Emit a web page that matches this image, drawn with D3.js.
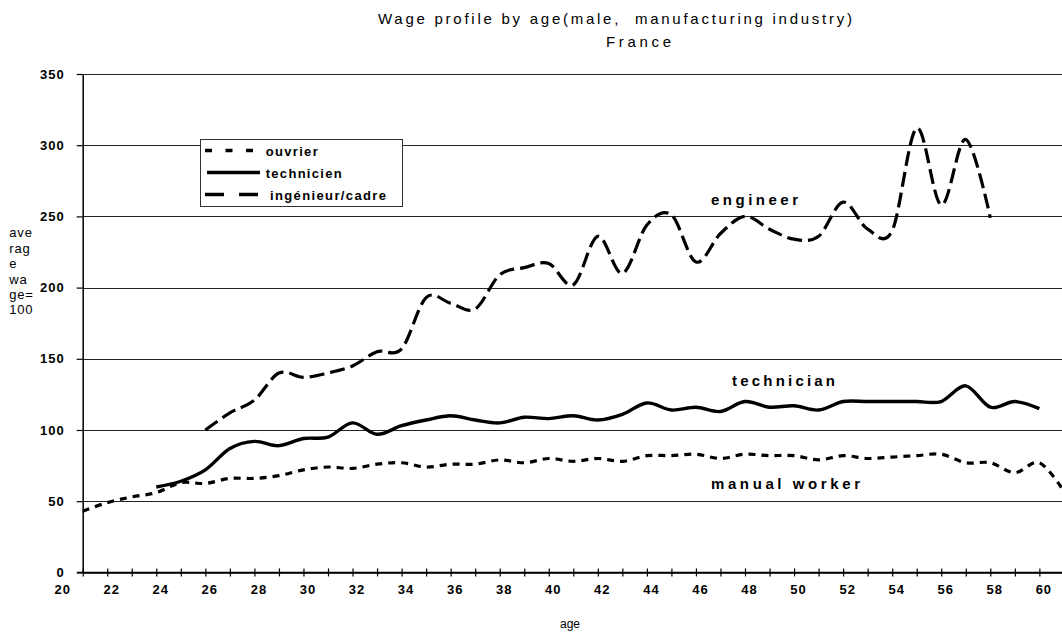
<!DOCTYPE html>
<html><head><meta charset="utf-8">
<script src="https://cdn.jsdelivr.net/npm/d3@7"></script>
<style>
body{margin:0;background:#fff}
svg{display:block}
text{font-family:"Liberation Sans",Arial,Helvetica,sans-serif;fill:#000}
</style>
</head><body>
<svg id="c" width="1062" height="635"></svg>
<script>
// ---- data (ages 21..61; null = no value) ----
const ages = d3.range(21, 62);
const ouvrier = [43,49,53,56,63,62.5,66,66,68,72,74,73,76,77,74,76,76,79,77,80,78,80,78,82,82,83,80,83,82,82,79,82,80,81,82,83,77,77,70,77,57];
const technicien = [null,null,null,60,64,72,87,92,89,94,95,105,97,103,107,110,107,105,109,108,110,107,111,119,114,116,113,120,116,117,114,120,120,120,120,120,131,116,120,115,null];
const ingenieur = [null,null,null,null,null,100,112,121,140,137,140,145,155,157,193,189,185,209,214,217,202,236,210,244,251,218,238,250,241,234,236,260,241,240,312,258,304,249,null,null,null];
const yTicks = [0,50,100,150,200,250,300,350];
const xTickAges = d3.range(21, 62);
const xLabels = [20,22,24,26,28,30,32,34,36,38,40,42,44,46,48,50,52,54,56,58,60];
const seriesNames = ["ouvrier","technicien","ingénieur/cadre"];
const titleLines = ["Wage profile by age(male,  manufacturing industry)","France"];
const yTitleLines = ["ave","rag","e","wa","ge=","100"];
const xTitle = "age";
const curveLabels = ["manual worker","technician","engineer"];

const svg = d3.select("#c");
const x = d3.scaleLinear().domain([21, 61]).range([82.7, 1063.9]);
const y = d3.scaleLinear().domain([0, 350]).range([572.4, 74]);

// gridlines
svg.append("g").selectAll("line").data(yTicks.filter(d => d > 0)).join("line")
  .attr("x1", x(21)).attr("x2", 1062)
  .attr("y1", d => Math.round(y(d)) + 0.5).attr("y2", d => Math.round(y(d)) + 0.5)
  .attr("stroke", "#222").attr("stroke-width", 1);

// y axis
const yAxis = svg.append("g").attr("transform", `translate(${x(21)},0)`)
  .call(d3.axisLeft(y).tickValues(yTicks).tickSize(6).tickSizeOuter(0).tickPadding(12));
yAxis.select(".domain").attr("stroke", "#000").attr("stroke-width", 1.5);
yAxis.selectAll(".tick line").attr("stroke", "#000").attr("stroke-width", 1.2);
yAxis.selectAll(".tick text").attr("font-family", null).style("font-size", "13px")
  .style("font-weight", "bold").style("letter-spacing", "1px");

// x axis
const xAxis = svg.append("g").attr("transform", `translate(0,${y(0)})`)
  .call(d3.axisBottom(x).tickValues(xTickAges).tickSize(4).tickSizeOuter(0).tickFormat(""));
xAxis.select(".domain").attr("stroke", "#000").attr("stroke-width", 1.5);
xAxis.selectAll(".tick line").attr("y1", -4).attr("stroke", "#000").attr("stroke-width", 1.2);
svg.append("line").attr("x1", 77).attr("x2", 1062).attr("y1", y(0)).attr("y2", y(0))
  .attr("stroke", "#000").attr("stroke-width", 1.5);

const xLab = svg.append("g").attr("transform", `translate(4,${y(0)})`)
  .call(d3.axisBottom(x).tickValues(xLabels).tickSize(0).tickPadding(12).tickFormat(d3.format("d")));
xLab.select(".domain").remove();
xLab.selectAll(".tick text").attr("font-family", null).style("font-size", "13px")
  .style("font-weight", "bold").style("letter-spacing", "1px");

// lines
const line = d3.line().defined(d => d[1] != null)
  .x(d => x(d[0])).y(d => y(d[1])).curve(d3.curveCardinal.tension(0));
const styles = [
  {data: ouvrier, dash: "7,6", w: 3.2},
  {data: technicien, dash: null, w: 3.4},
  {data: ingenieur, dash: "15,6", w: 3.2}
];
styles.forEach(s => {
  svg.append("path").datum(ages.map((a, i) => [a, s.data[i]]))
    .attr("d", line).attr("fill", "none").attr("stroke", "#000")
    .attr("stroke-width", s.w).attr("stroke-dasharray", s.dash);
});

// legend
const lg = svg.append("g");
lg.append("rect").attr("x", 200.5).attr("y", 139.5).attr("width", 202).attr("height", 67)
  .attr("fill", "#fff").attr("stroke", "#333").attr("stroke-width", 1);
const legY = [150.5, 172.5, 194.5];
const legDash = ["7,13.5", null, "19,15"];
const legX1 = [205, 207, 205], legX2 = [253, 260, 263];
const legTextX = [265.7, 265.7, 270];
const legTextW = [52, 76, 116];
seriesNames.forEach((n, i) => {
  lg.append("line").attr("x1", legX1[i]).attr("x2", legX2[i]).attr("y1", legY[i]).attr("y2", legY[i])
    .attr("stroke", "#000").attr("stroke-width", 3.5).attr("stroke-dasharray", legDash[i]);
  lg.append("text").attr("x", legTextX[i]).attr("y", legY[i] + 5).text(n)
    .style("font-size", "13px").style("font-weight", "bold")
    .attr("textLength", legTextW[i]).attr("lengthAdjust", "spacing");
});

// curve labels
const clX = [711, 732, 711], clY = [489, 386, 205], clW = [149, 103, 87];
curveLabels.forEach((t, i) => {
  svg.append("text").attr("x", clX[i]).attr("y", clY[i]).text(t)
    .style("font-size", "15px").style("font-weight", "bold")
    .attr("textLength", clW[i]).attr("lengthAdjust", "spacing");
});

// title
svg.append("text").attr("x", 378).attr("y", 24).text(titleLines[0])
  .style("font-size", "15px").style("white-space", "pre")
  .attr("textLength", 474).attr("lengthAdjust", "spacing");
svg.append("text").attr("x", 606).attr("y", 46.5).text(titleLines[1])
  .style("font-size", "15px").attr("textLength", 65).attr("lengthAdjust", "spacing");

// y title
yTitleLines.forEach((t, i) => {
  svg.append("text").attr("x", 9.3).attr("y", 237.3 + i * 15.4).text(t)
    .style("font-size", "13px").style("letter-spacing", "0.8px");
});

// x title
svg.append("text").attr("x", 570).attr("y", 628).attr("text-anchor", "middle").text(xTitle)
  .style("font-size", "12px");
</script>
</body></html>
